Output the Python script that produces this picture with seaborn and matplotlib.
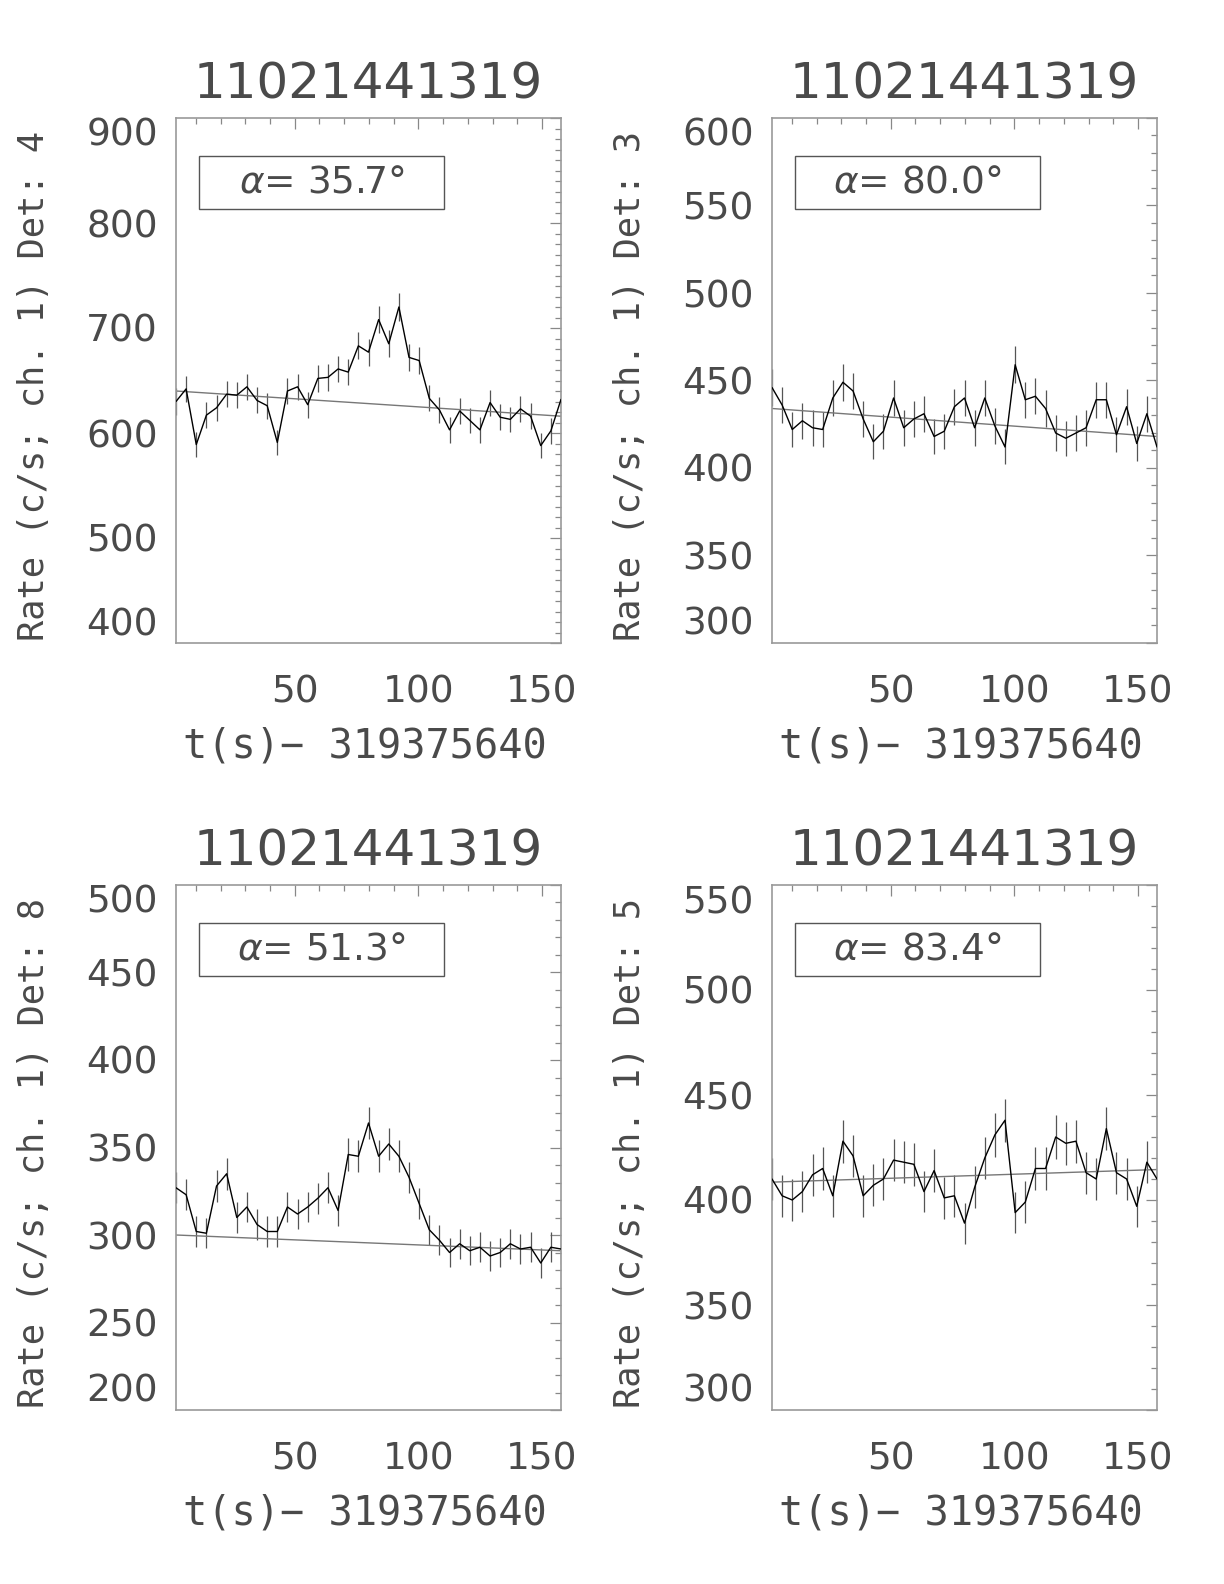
import numpy as np
import pandas as pd
import matplotlib
matplotlib.use("Agg")
import matplotlib.pyplot as plt
from matplotlib.patches import Rectangle
from matplotlib.ticker import MultipleLocator
import seaborn as sns

# ---------------- data ----------------
time_s = [2.0, 6.096, 10.192, 14.288, 18.384, 22.48, 26.576, 30.672, 34.768, 38.864,
          42.96, 47.056, 51.152, 55.248, 59.344, 63.44, 67.536, 71.632, 75.728, 79.824,
          83.92, 88.016, 92.112, 96.208, 100.304, 104.4, 108.496, 112.592, 116.688, 120.784,
          124.88, 128.976, 133.072, 137.168, 141.264, 145.36, 149.456, 153.552, 157.648]

title_text = "11021441319"
xlabel_text = "t(s)\u2212 319375640"
detectors = ["4", "3", "8", "5"]
alphas = ["35.7", "80.0", "51.3", "83.4"]

rate_det4 = [630, 642, 589, 617, 624, 637, 636, 644, 631, 626, 591, 640, 644, 627, 652, 653,
             661, 658, 683, 677, 708, 685, 720, 672, 669, 633, 622, 603, 621, 612, 603, 629,
             615, 613, 623, 616, 588, 602, 632]
err_det4 = [12.4, 12.5, 12.0, 12.3, 12.3, 12.5, 12.5, 12.5, 12.4, 12.4, 12.0, 12.5, 12.5,
            12.4, 12.6, 12.6, 12.7, 12.7, 12.9, 12.9, 13.2, 12.9, 13.3, 12.8, 12.8, 12.4,
            12.3, 12.1, 12.3, 12.2, 12.1, 12.4, 12.3, 12.2, 12.3, 12.3, 12.0, 12.1, 12.4]
bkg_det4 = [640, 616]

rate_det3 = [446, 436, 422, 427, 423, 422, 440, 449, 444, 428, 415, 421, 440, 423, 428, 431,
             418, 421, 435, 440, 423, 440, 424, 412, 459, 439, 441, 434, 420, 417, 420, 423,
             439, 439, 419, 435, 414, 431, 412]
err_det3 = [10.4, 10.3, 10.2, 10.2, 10.2, 10.2, 10.4, 10.5, 10.4, 10.2, 10.1, 10.1, 10.4,
            10.2, 10.2, 10.3, 10.1, 10.1, 10.3, 10.4, 10.2, 10.4, 10.2, 10.0, 10.6, 10.4,
            10.4, 10.3, 10.1, 10.1, 10.1, 10.2, 10.4, 10.4, 10.1, 10.3, 10.1, 10.3, 10.0]
bkg_det3 = [434, 418]

rate_det8 = [327, 323, 302, 301, 328, 335, 310, 316, 306, 302, 302, 316, 312, 316, 321, 327,
             314, 346, 345, 364, 345, 352, 345, 333, 318, 303, 297, 290, 295, 291, 293, 288,
             290, 295, 292, 293, 284, 293, 292]
err_det8 = [8.9, 8.9, 8.6, 8.6, 9.0, 9.0, 8.7, 8.8, 8.6, 8.6, 8.6, 8.8, 8.7, 8.8, 8.9, 8.9,
            8.8, 9.2, 9.2, 9.4, 9.2, 9.3, 9.2, 9.0, 8.8, 8.6, 8.5, 8.4, 8.5, 8.4, 8.5, 8.4,
            8.4, 8.5, 8.4, 8.5, 8.3, 8.5, 8.4]
bkg_det8 = [300, 291]

rate_det5 = [410, 402, 400, 404, 412, 415, 402, 428, 421, 402, 407, 410, 419, 418, 417, 404,
             414, 401, 402, 389, 406, 420, 431, 438, 394, 399, 415, 415, 430, 427, 428, 413,
             410, 434, 413, 410, 397, 418, 410]
err_det5 = [10.0, 9.9, 9.9, 9.9, 10.0, 10.1, 9.9, 10.2, 10.1, 9.9, 10.0, 10.0, 10.1, 10.1,
            10.1, 9.9, 10.1, 9.9, 9.9, 9.8, 10.0, 10.1, 10.3, 10.3, 9.8, 9.9, 10.1, 10.1,
            10.3, 10.2, 10.2, 10.0, 10.0, 10.3, 10.0, 10.0, 9.9, 10.1, 10.0]
bkg_det5 = [408.5, 414.5]

ylims = [(400, 900), (300, 600), (200, 500), (300, 550)]
yticks_all = [[400, 500, 600, 700, 800, 900],
              [300, 350, 400, 450, 500, 550, 600],
              [200, 250, 300, 350, 400, 450, 500],
              [300, 350, 400, 450, 500, 550]]
xticks = [50, 100, 150]

rates = [rate_det4, rate_det3, rate_det8, rate_det5]
errs = [err_det4, err_det3, err_det8, err_det5]
bkgs = [bkg_det4, bkg_det3, bkg_det8, bkg_det5]

# ---------------- style ----------------
sns.set_style("white")
plt.rcParams['font.family'] = ['DejaVu Sans']
plt.rcParams['mathtext.fontset'] = 'dejavusans'
TXT = '#4a4a4a'
LABFAM = ['DejaVu Sans Mono', 'DejaVu Sans']

W, H = 1224, 1584
fig = plt.figure(figsize=(W / 100, H / 100), dpi=100)
lefts = [176, 772, 176, 772]
tops = [118, 118, 885, 885]
aw, ah = 385, 525

for k in range(4):
    ax = fig.add_axes([lefts[k] / W, 1 - (tops[k] + ah) / H, aw / W, ah / H])
    df = pd.DataFrame({"t": time_s, "rate": rates[k], "err": errs[k]})
    ax.errorbar(df["t"], df["rate"], yerr=df["err"], fmt='none', ecolor='#555555',
                elinewidth=0.9, capsize=0, zorder=2)
    sns.lineplot(data=df, x="t", y="rate", ax=ax, color='black', linewidth=1.0,
                 estimator=None, sort=False, legend=False, zorder=3)
    bdf = pd.DataFrame({"t": [time_s[0], time_s[-1]], "b": bkgs[k]})
    sns.lineplot(data=bdf, x="t", y="b", ax=ax, color='#777777', linewidth=1.0,
                 estimator=None, legend=False, zorder=2)

    ax.set_xlim(time_s[0], time_s[-1])
    ax.set_ylim(*ylims[k])
    ax.set_xticks(xticks)
    ax.set_yticks(yticks_all[k])
    ax.xaxis.set_minor_locator(MultipleLocator(10))
    ax.yaxis.set_minor_locator(MultipleLocator(10))
    ax.set_xlabel("")
    ax.set_ylabel("")

    for s in ax.spines.values():
        s.set_color('#999999')
        s.set_linewidth(1.2)
    ax.tick_params(which='both', direction='in', top=True, right=True, color='#888888',
                   width=0.9)
    ax.tick_params(which='major', length=8)
    ax.tick_params(which='minor', length=4.5)
    ax.tick_params(axis='y', which='major', labelsize=27, pad=13, labelcolor=TXT)
    ax.tick_params(axis='x', which='major', labelsize=27, pad=22.5, labelcolor=TXT)
    ylabs = ax.get_yticklabels()
    ylabs[0].set_va('bottom')
    ylabs[-1].set_va('top')

    ax.text(0.5, 1.038, title_text, transform=ax.transAxes, ha='center', va='baseline',
            fontsize=36, color=TXT)
    ax.text(0.49, -0.219, xlabel_text, transform=ax.transAxes, ha='center', va='baseline',
            fontsize=29, color=TXT, family=LABFAM)
    ax.text(-0.37, 0.49, "Rate (c/s; ch. 1) Det: " + detectors[k], transform=ax.transAxes,
            ha='center', va='center', rotation=90, fontsize=25.5, color=TXT, family=LABFAM)

    ax.add_patch(Rectangle((0.06, 0.827), 0.636, 0.101, transform=ax.transAxes,
                           fill=False, edgecolor='#555555', linewidth=1.0, zorder=4))
    ax.text(0.378, 0.8775, r"$\alpha$= " + alphas[k] + "\u00b0", transform=ax.transAxes,
            ha='center', va='center', fontsize=27, color=TXT, zorder=5)

fig.savefig("out.png", dpi=100, facecolor='white')
